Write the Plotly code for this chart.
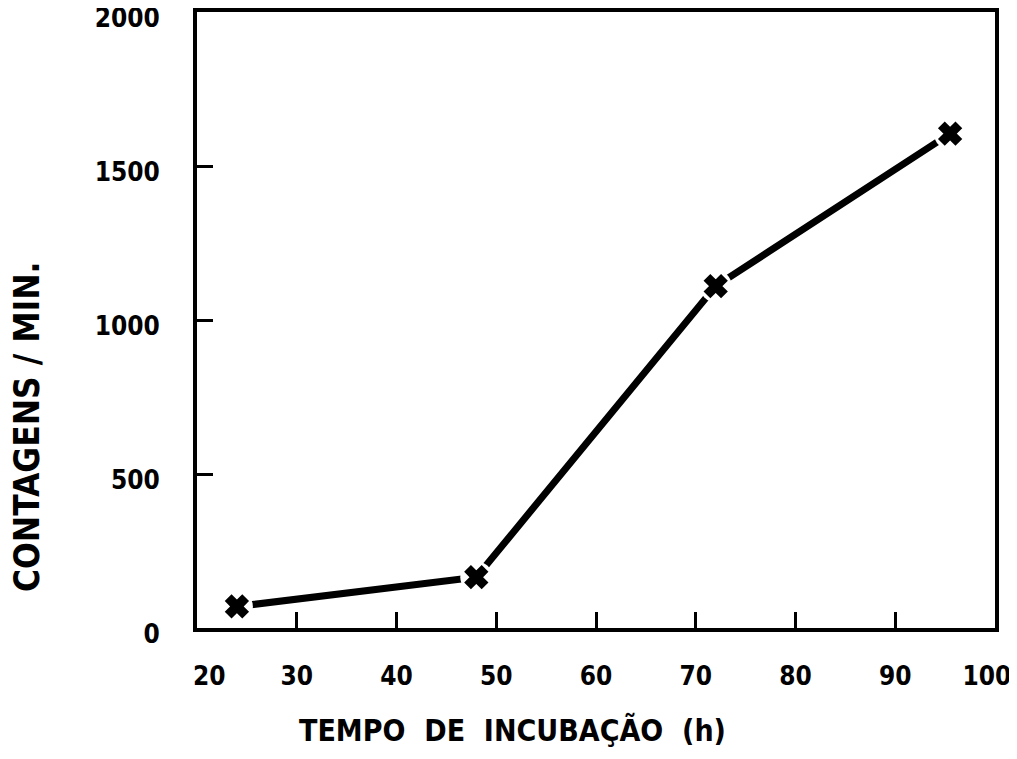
import plotly.graph_objects as go

hours = [24, 48, 72, 95.5]
counts = [70, 165, 1110, 1605]
x_ticks = [20, 30, 40, 50, 60, 70, 80, 90, 100]
x_labels = ["\u00a0\u00a0\u00a020", "30", "40", "50", "60", "70", "80", "90",
            "100\u00a0\u00a0"]
y_ticks = [0, 500, 1000, 1500, 2000]
y_labels = ["0", "500", "1000", "1500", "2000"]

fig = go.Figure()
fig.add_trace(go.Scatter(
    x=hours, y=counts, mode="lines",
    line=dict(color="black", width=7),
    showlegend=False, cliponaxis=False, hoverinfo="skip",
))
fig.add_trace(go.Scatter(
    x=hours, y=counts, mode="markers",
    marker=dict(symbol="circle", size=32, color="white", line=dict(width=0)),
    showlegend=False, cliponaxis=False, hoverinfo="skip",
))
fig.add_trace(go.Scatter(
    x=hours, y=counts, mode="markers",
    marker=dict(symbol="x", size=19, color="black",
                line=dict(color="black", width=2)),
    showlegend=False, cliponaxis=False,
))

FAM = "DejaVu Sans Condensed, DejaVu Sans"
tickfont = dict(family=FAM, size=26, color="black", weight="bold")
# page has an 8px body margin; figure sized to fit the window
W, H = 1001, 743
L, R, T, B = 189, 14, 4, 123
fig.update_layout(
    width=W, height=H,
    margin=dict(l=L, r=R, t=T, b=B),
    plot_bgcolor="white", paper_bgcolor="white",
    font=tickfont,
)
fig.update_xaxes(
    range=[20, 100], tickvals=x_ticks, ticktext=x_labels, tickfont=tickfont,
    showline=True, linecolor="black", linewidth=4, mirror=True,
    ticks="inside", ticklen=16, tickwidth=3, tickcolor="black",
    showgrid=False, zeroline=False, ticklabelstandoff=22, automargin=False,
    ticklabeloverflow="allow",
)
fig.update_yaxes(
    range=[0, 2000], tickvals=y_ticks, ticktext=y_labels, tickfont=tickfont,
    showline=True, linecolor="black", linewidth=4, mirror=True,
    ticks="inside", ticklen=16, tickwidth=3, tickcolor="black",
    showgrid=False, zeroline=False, ticklabelstandoff=28, automargin=False,
    ticklabeloverflow="allow", ticklabelshift=6,
)
pw, ph = W - L - R, H - T - B
sp = "\u00a0\u00a0"
fig.add_annotation(
    text=f"TEMPO{sp}DE{sp}INCUBAÇÃO{sp}(h)",
    xref="paper", yref="paper", x=(504 - L) / pw, y=(H - B - (H - 1)) / ph,
    xanchor="center", yanchor="bottom", showarrow=False,
    font=dict(family=FAM, size=30, color="black", weight="bold"),
)
fig.add_annotation(
    text="CONTAGENS / MIN.",
    xref="paper", yref="paper", x=(-3 - L) / pw, y=(H - B - 419) / ph,
    xanchor="left", yanchor="middle", showarrow=False, textangle=-90,
    font=dict(family=FAM, size=35, color="black", weight="bold"),
)
fig.write_html("out.html")
